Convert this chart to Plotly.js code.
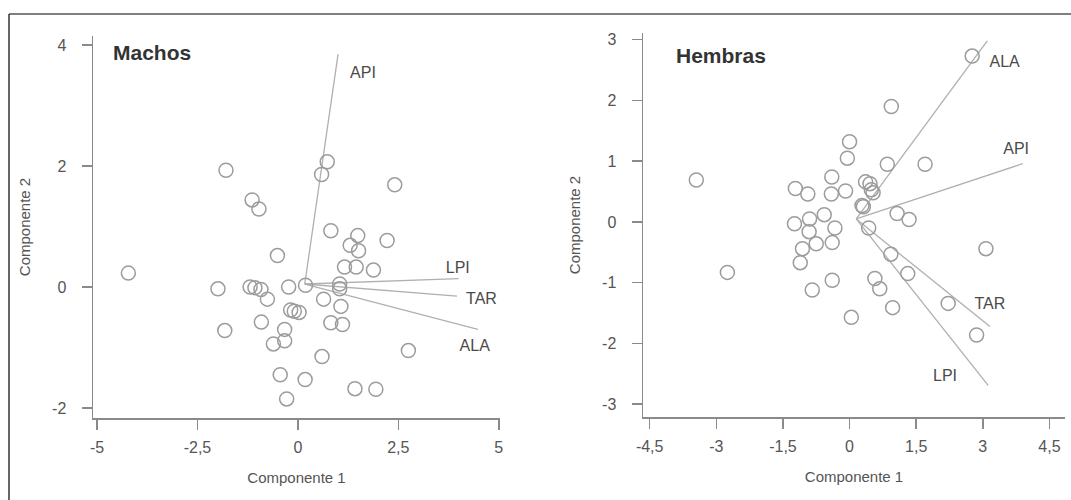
<!DOCTYPE html>
<html>
<head>
<meta charset="utf-8">
<script src="https://cdn.plot.ly/plotly-3.0.1.min.js"></script>
<style>html,body{margin:0;padding:0;background:#fff;}#chart{width:1071px;height:500px;}</style>
</head>
<body>
<div id="chart"></div>
<script>
// ---- Data ----
const machosX = [-4.22,-1.79,-1.14,-0.97,0.73,0.59,2.41,0.82,1.49,1.30,1.51,2.22,-0.51,1.16,1.45,1.88,-1.99,-1.19,-1.07,-0.92,-0.76,-0.23,0.19,1.04,1.04,0.64,1.07,-0.18,-0.09,0.03,-0.91,0.82,1.11,-1.82,-0.33,-0.33,-0.61,2.75,0.60,-0.44,0.18,1.42,1.94,-0.28];
const machosY = [0.23,1.93,1.44,1.29,2.07,1.86,1.69,0.93,0.85,0.69,0.60,0.77,0.52,0.33,0.33,0.28,-0.03,0.00,-0.01,-0.04,-0.20,0.00,0.03,0.05,-0.03,-0.20,-0.32,-0.38,-0.40,-0.42,-0.58,-0.59,-0.62,-0.72,-0.70,-0.89,-0.94,-1.05,-1.15,-1.45,-1.53,-1.68,-1.69,-1.85];

const hembrasX = [-3.45,-2.75,2.76,0.94,0.00,-0.05,0.85,1.70,-0.40,-1.22,-0.94,-0.41,-0.09,0.36,0.46,0.49,0.53,0.28,0.31,-0.57,-1.24,-0.90,-0.33,-0.91,-0.75,-0.39,-1.06,-1.11,1.07,1.34,0.43,3.07,0.93,1.31,-0.39,0.57,0.68,-0.84,0.97,0.04,2.22,2.86];
const hembrasY = [0.69,-0.83,2.73,1.90,1.32,1.05,0.95,0.95,0.74,0.55,0.46,0.46,0.51,0.66,0.63,0.53,0.48,0.27,0.25,0.12,-0.03,0.05,-0.10,-0.16,-0.36,-0.34,-0.44,-0.67,0.14,0.04,-0.10,-0.44,-0.53,-0.85,-0.96,-0.93,-1.10,-1.12,-1.41,-1.57,-1.34,-1.86];

const varNames = ["API","LPI","TAR","ALA"];
const machosOrigin = [0.17, 0.05];
const machosVecX = [1.00, 4.00, 3.96, 4.48];
const machosVecY = [3.85, 0.14, -0.15, -0.70];
const machosLabX = [1.62, 3.98, 4.57, 4.40];
const machosLabY = [3.53, 0.30, -0.21, -0.99];

const hembrasOrigin = [0.15, 0.05];
const hembrasVecX = [3.90, 3.12, 3.16, 3.10];
const hembrasVecY = [0.96, -2.69, -1.72, 2.98];
const hembrasLabX = [3.75, 2.15, 3.16, 3.49];
const hembrasLabY = [1.19, -2.55, -1.37, 2.61];

const machosXTicks = [-5,-2.5,0,2.5,5];
const machosXText = ["-5","-2,5","0","2,5","5"];
const machosYTicks = [-2,0,2,4];
const machosYText = ["-2","0","2","4"];
const hembrasXTicks = [-4.5,-3,-1.5,0,1.5,3,4.5];
const hembrasXText = ["-4,5","-3","-1,5","0","1,5","3","4,5"];
const hembrasYTicks = [-3,-2,-1,0,1,2,3];
const hembrasYText = ["-3","-2","-1","0","1","2","3"];

// ---- Styles ----
const FONT = "Liberation Sans, Arial, sans-serif";
const axisCol = "#8a8a8a";
const markerStyle = {symbol:"circle", size:14, color:"rgba(0,0,0,0)", line:{color:"#9c9c9c", width:1.5}};
const vecLine = {color:"#b0b0b0", width:1.3};

function vectorTrace(origin, vx, vy, xa, ya){
  const xs = [], ys = [];
  for (let i=0;i<vx.length;i++){ xs.push(origin[0], vx[i], null); ys.push(origin[1], vy[i], null); }
  return {x:xs, y:ys, mode:"lines", line:vecLine, xaxis:xa, yaxis:ya, hoverinfo:"skip", showlegend:false};
}
function labelTrace(lx, ly, xa, ya){
  return {x:lx, y:ly, text:varNames, mode:"text", textfont:{family:FONT, size:16, color:"#4a4a4a"},
          xaxis:xa, yaxis:ya, hoverinfo:"skip", showlegend:false};
}

const data = [
  vectorTrace(machosOrigin, machosVecX, machosVecY, "x", "y"),
  {x:machosX, y:machosY, mode:"markers", marker:markerStyle, xaxis:"x", yaxis:"y", showlegend:false},
  labelTrace(machosLabX, machosLabY, "x", "y"),
  vectorTrace(hembrasOrigin, hembrasVecX, hembrasVecY, "x2", "y2"),
  {x:hembrasX, y:hembrasY, mode:"markers", marker:markerStyle, xaxis:"x2", yaxis:"y2", showlegend:false},
  labelTrace(hembrasLabX, hembrasLabY, "x2", "y2")
];

function axis(extra){
  return Object.assign({
    showgrid:false, zeroline:false, showline:true, linecolor:axisCol, linewidth:1.5,
    ticks:"outside", ticklen:10, tickwidth:1.5, tickcolor:axisCol, tickmode:"array",
    tickfont:{family:FONT, size:16, color:"#555"}, fixedrange:true
  }, extra);
}
const titleFont = {family:FONT, size:15, color:"#555"};

const layout = {
  width:1071, height:500,
  margin:{l:0,r:0,t:0,b:0},
  paper_bgcolor:"#fff", plot_bgcolor:"#fff",
  showlegend:false,
  xaxis: axis({domain:[93/1071, 500/1071], range:[-5.1, 5.03], tickvals:machosXTicks, ticktext:machosXText,
    anchor:"y", ticklabelstandoff:4, title:{text:"Componente 1", font:titleFont, standoff:18}}),
  yaxis: axis({domain:[82/500, 464/500], range:[-2.165, 4.15], tickvals:machosYTicks, ticktext:machosYText,
    anchor:"x", ticklabelstandoff:12, title:{text:"Componente 2", font:titleFont, standoff:18}}),
  xaxis2: axis({domain:[643/1071, 1065/1071], range:[-4.65, 4.85], tickvals:hembrasXTicks, ticktext:hembrasXText,
    anchor:"y2", ticklabelstandoff:4, title:{text:"Componente 1", font:titleFont, standoff:18}}),
  yaxis2: axis({domain:[83/500, 467/500], range:[-3.21, 3.11], tickvals:hembrasYTicks, ticktext:hembrasYText,
    anchor:"x2", ticklabelstandoff:12, title:{text:"Componente 2", font:titleFont, standoff:18}}),
  annotations:[
    {text:"<b>Machos</b>", xref:"paper", yref:"paper", x:111/1071, y:1-53/500, xanchor:"left", yanchor:"middle",
     showarrow:false, font:{family:FONT, size:21, color:"#333"}},
    {text:"<b>Hembras</b>", xref:"paper", yref:"paper", x:674/1071, y:1-56/500, xanchor:"left", yanchor:"middle",
     showarrow:false, font:{family:FONT, size:21, color:"#333"}}
  ],
  shapes:[
    {type:"line", xref:"paper", yref:"paper", x0:9/1071, x1:1, y0:1-14/500, y1:1-14/500, line:{color:"#555", width:1.5}},
    {type:"line", xref:"paper", yref:"paper", x0:9/1071, x1:9/1071, y0:0, y1:1-14/500, line:{color:"#333", width:1.5}}
  ]
};

Plotly.newPlot("chart", data, layout, {displayModeBar:false, staticPlot:true});
</script>
</body>
</html>
